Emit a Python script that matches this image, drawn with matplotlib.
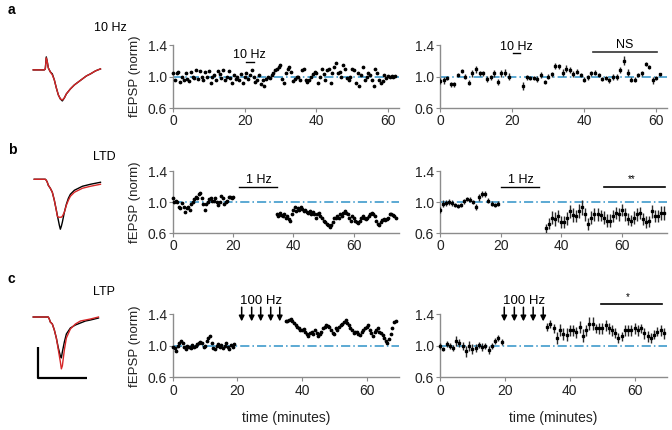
import matplotlib
matplotlib.use('Agg')
import matplotlib.pyplot as plt
import numpy as np

plt.rcParams['font.family'] = ['Liberation Sans', 'DejaVu Sans']
plt.rcParams['font.size'] = 8.5

# ---- data: panel a (10 Hz) ----
a_mid_t = np.arange(0, 62.1, 0.5)
a_mid_v = [1.05, 0.95, 1.04, 1.06, 0.93, 1.0, 0.96, 1.05, 0.97, 0.94,
           1.06, 1.0, 0.98, 1.08, 0.97, 1.07, 1.0, 0.95, 1.06, 0.99,
           1.07, 0.92, 1.0, 1.02, 0.95, 1.07, 1.03, 0.98, 1.08, 0.96,
           1.0, 1.07, 0.98, 0.92, 1.02, 0.97, 1.0, 0.95, 1.03, 0.92,
           1.0, 1.05, 0.97, 1.02, 1.08, 1.0, 0.93, 0.96, 1.02, 0.9,
           0.95, 0.88, 0.97, 1.0, 0.98, 1.02, 1.05, 1.08, 1.1, 1.12,
           1.14, 0.97, 0.92, 1.05, 1.1, 1.12, 1.06, 0.94, 0.97, 0.99,
           1.0, 0.96, 1.08, 1.1, 0.95, 0.93, 0.95, 1.0, 1.03, 1.06,
           1.05, 0.92, 1.0, 1.1, 1.03, 0.96, 1.08, 1.1, 0.92, 1.05,
           1.12, 1.17, 1.05, 1.06, 1.0, 1.14, 1.1, 0.98, 0.96, 1.0,
           1.1, 1.08, 0.92, 1.04, 0.88, 1.02, 1.12, 0.96, 1.0, 1.04,
           1.02, 0.96, 0.88, 1.1, 1.04, 0.96, 0.92, 0.94, 1.02, 0.98,
           1.01, 1.0, 1.01, 1.0, 1.01]

a_right_t = list(range(0, 20)) + list(range(23, 62))
a_right_v = [0.94, 0.95, 0.98, 0.90, 0.90, 1.02, 1.07, 1.0, 0.92, 1.04,
             1.09, 1.04, 1.04, 0.97, 0.99, 1.04, 0.93, 1.04, 1.05, 1.0,
             0.88, 0.99, 0.98, 0.98, 0.97, 1.02, 0.93, 1.0, 1.03, 1.13,
             1.13, 1.05, 1.1, 1.08, 1.03, 1.06, 1.02, 0.96, 0.99, 1.04,
             1.05, 1.02, 0.97, 0.98, 0.95, 0.99, 0.99, 1.08, 1.2, 1.05,
             0.96, 0.96, 1.02, 1.04, 1.16, 1.12, 0.95, 0.98, 1.03]
a_right_e = [0.04, 0.04, 0.03, 0.03, 0.03, 0.03, 0.03, 0.03, 0.03, 0.04,
             0.04, 0.03, 0.03, 0.04, 0.03, 0.04, 0.04, 0.04, 0.04, 0.04,
             0.05, 0.03, 0.03, 0.03, 0.04, 0.04, 0.03, 0.03, 0.03, 0.04,
             0.03, 0.04, 0.04, 0.04, 0.04, 0.03, 0.03, 0.03, 0.03, 0.03,
             0.03, 0.02, 0.03, 0.03, 0.03, 0.04, 0.04, 0.04, 0.06, 0.04,
             0.03, 0.03, 0.03, 0.03, 0.03, 0.03, 0.04, 0.03, 0.02]

# ---- data: panel b (LTD, 1 Hz) ----
b_mid_t = list(np.arange(0, 20.1, 0.5)) + list(np.arange(34.5, 74.1, 0.5))
b_mid_v = [1.05, 1.0, 1.02, 1.0, 0.94, 0.92, 0.99, 0.93, 0.87, 0.92,
           0.94, 0.9, 0.98, 1.0, 1.04, 1.06, 1.05, 1.1, 1.12, 1.05,
           0.97, 0.9, 0.98, 1.0, 1.04, 1.05, 1.02, 1.02, 1.05, 1.0,
           0.96, 1.0, 1.08, 1.05, 0.98, 1.0, 1.02, 1.06, 1.06, 1.05, 1.06,
           0.84, 0.82, 0.86, 0.83, 0.82, 0.84, 0.80, 0.82, 0.78, 0.75,
           0.84, 0.90, 0.93, 0.88, 0.92, 0.90, 0.93, 0.91, 0.88, 0.90,
           0.87, 0.86, 0.89, 0.85, 0.87, 0.84, 0.80, 0.84, 0.86, 0.82,
           0.79, 0.76, 0.74, 0.72, 0.70, 0.68, 0.70, 0.74, 0.80, 0.79,
           0.82, 0.80, 0.84, 0.82, 0.86, 0.88, 0.86, 0.84, 0.80, 0.76,
           0.82, 0.80, 0.76, 0.74, 0.73, 0.76, 0.80, 0.82, 0.80, 0.78,
           0.80, 0.82, 0.84, 0.86, 0.85, 0.82, 0.76, 0.72, 0.71, 0.74,
           0.77, 0.78, 0.77, 0.78, 0.80, 0.84, 0.85, 0.83, 0.82, 0.80]

b_right_t = list(range(0, 20)) + list(range(35, 75))
b_right_v = [0.9, 0.98, 0.99, 1.0, 0.99, 0.96, 0.95, 0.96, 1.01, 1.04,
             1.03, 1.0, 0.94, 1.06, 1.1, 1.1, 1.02, 0.98, 0.96, 0.98,
             0.66, 0.72, 0.80, 0.78, 0.82, 0.74, 0.74, 0.79, 0.88, 0.83,
             0.82, 0.88, 0.93, 0.84, 0.72, 0.80, 0.84, 0.84, 0.83, 0.80,
             0.76, 0.76, 0.82, 0.86, 0.84, 0.90, 0.84, 0.78, 0.76, 0.80,
             0.84, 0.86, 0.78, 0.74, 0.75, 0.88, 0.82, 0.82, 0.86, 0.86]
b_right_e = [0.04, 0.05, 0.04, 0.04, 0.04, 0.03, 0.03, 0.03, 0.03, 0.03,
             0.03, 0.03, 0.04, 0.04, 0.04, 0.04, 0.03, 0.03, 0.03, 0.03,
             0.06, 0.07, 0.08, 0.09, 0.08, 0.08, 0.08, 0.08, 0.08, 0.09,
             0.08, 0.09, 0.10, 0.08, 0.08, 0.08, 0.08, 0.08, 0.07, 0.08,
             0.08, 0.08, 0.08, 0.08, 0.08, 0.08, 0.08, 0.08, 0.07, 0.08,
             0.08, 0.08, 0.08, 0.08, 0.07, 0.08, 0.08, 0.08, 0.09, 0.09]

# ---- data: panel c (LTP, 100 Hz) ----
c_mid_t = list(np.arange(0, 19.1, 0.5)) + list(np.arange(35, 69.1, 0.5))
c_mid_v = [0.98, 0.97, 0.93, 1.0, 1.03, 1.06, 1.03, 0.98, 0.96, 1.0,
           0.99, 0.97, 1.01, 0.99, 1.0, 1.02, 1.04, 1.05, 1.03, 0.99,
           1.0, 1.06, 1.1, 1.12, 1.04, 0.97, 0.96, 1.0, 1.02, 0.98,
           1.01, 0.97, 1.0, 1.03, 0.98, 0.96, 1.01, 0.99, 1.02,
           1.31, 1.32, 1.33, 1.34, 1.31, 1.29, 1.26, 1.24, 1.22, 1.2,
           1.2, 1.21, 1.18, 1.15, 1.12, 1.16, 1.18, 1.15, 1.2, 1.16,
           1.13, 1.15, 1.18, 1.22, 1.24, 1.26, 1.25, 1.24, 1.2, 1.16,
           1.15, 1.22, 1.2, 1.24, 1.26, 1.28, 1.3, 1.33, 1.29, 1.26,
           1.22, 1.2, 1.16, 1.18, 1.18, 1.15, 1.14, 1.18, 1.2, 1.22,
           1.24, 1.26, 1.2, 1.16, 1.12, 1.17, 1.2, 1.22, 1.18, 1.16,
           1.14, 1.1, 1.06, 1.04, 1.08, 1.15, 1.22, 1.3, 1.32]

c_right_t = list(range(0, 20)) + list(range(33, 70))
c_right_v = [1.0, 0.96, 1.02, 1.0, 0.97, 1.06, 1.03, 1.0, 0.93, 1.0,
             0.96, 0.97, 1.01, 0.98, 1.0, 0.95, 1.0, 1.06, 1.1, 1.05,
             1.24, 1.28, 1.22, 1.1, 1.2, 1.15, 1.14, 1.2, 1.2, 1.17,
             1.24, 1.13, 1.2, 1.28, 1.28, 1.22, 1.22, 1.22, 1.26, 1.22,
             1.2, 1.16, 1.1, 1.12, 1.2, 1.2, 1.2, 1.22, 1.2, 1.22,
             1.16, 1.12, 1.1, 1.14, 1.18, 1.2, 1.16]
c_right_e = [0.04, 0.03, 0.04, 0.04, 0.04, 0.06, 0.05, 0.05, 0.07, 0.06,
             0.06, 0.05, 0.04, 0.05, 0.04, 0.05, 0.04, 0.04, 0.04, 0.04,
             0.05, 0.05, 0.06, 0.08, 0.08, 0.08, 0.08, 0.07, 0.07, 0.07,
             0.08, 0.08, 0.07, 0.08, 0.08, 0.06, 0.07, 0.07, 0.07, 0.07,
             0.07, 0.06, 0.06, 0.06, 0.07, 0.07, 0.07, 0.07, 0.07, 0.06,
             0.07, 0.07, 0.06, 0.06, 0.06, 0.07, 0.07]

c_tetanus = [21.3, 24.4, 27.2, 30.3, 33.1]
c_tetanus_right = [19.8, 22.9, 25.7, 28.7, 31.8]

# ---- example fEPSP traces (arbitrary units, 0 = baseline) ----
tr_a_t = [33, 44, 45, 46, 47, 48, 50, 52, 54, 56, 58, 60, 62, 64, 66, 70, 74, 78, 82, 86, 90, 95, 100]
tr_a_black = [0, 0, 1, 13, 8, 2, -2, -4, -10, -18, -25, -29, -31, -28, -24, -19, -15, -12, -9, -6, -4, -1, 1]
tr_a_red = [0, 0, 1, 12, 8, 2, -2, -5, -10, -18, -25, -29, -30, -28, -24, -19, -15, -12, -9, -6, -4, -1, 1]

tr_b_t = [34, 45, 46, 47, 48, 50, 52, 54, 56, 57, 58, 59, 60, 61, 62, 64, 66, 68, 70, 74, 78, 82, 86, 90, 95, 100]
tr_b_black = [0, 0, -1, -3, -6, -9, -13, -21, -31, -36, -41, -46, -50, -47, -43, -33, -25, -19, -15, -11, -9, -7, -6, -5, -4, -3]
tr_b_red = [0, 0, -1, -3, -6, -9, -13, -21, -31, -37, -38, -38, -38, -38, -37, -33, -26, -21, -17, -13, -11, -9, -8, -7, -6, -5]

tr_c_t = [33, 48, 49, 50, 52, 54, 56, 58, 60, 61, 62, 64, 66, 70, 75, 80, 85, 90, 98]
tr_c_black = [0, 0, -2, -5, -7, -13, -21, -31, -39, -41, -35, -25, -17, -11, -8, -6, -4, -3, -1]
tr_c_red = [0, 0, -2, -5, -7, -13, -21, -33, -45, -52, -49, -33, -21, -12, -7, -4, -3, -2, 0]
scale_x = [38, 38, 87]
scale_y = [-30, -61, -61]

blue = '#2f92c8'
grey = '#8c8c8c'
fig = plt.figure(figsize=(6.72, 4.30), dpi=100)

rows = [0.7488, 0.4581, 0.1226]
heights = [0.1465, 0.144, 0.1465]
xlims = [63, 75, 70]


def style_axes(ax, xmax, xlabel=False):
    ax.set_xlim(0, xmax)
    ax.set_ylim(0.6, 1.4)
    for s in ['top', 'right']:
        ax.spines[s].set_visible(False)
    for s in ['left', 'bottom']:
        ax.spines[s].set_color(grey)
        ax.spines[s].set_linewidth(1.0)
    ax.set_yticks([0.6, 1.0, 1.4])
    ax.set_yticklabels(['0.6', '1.0', '1.4'])
    ax.set_xticks([0, 20, 40, 60])
    ax.tick_params(colors=grey, labelcolor='#222222', length=3, width=0.8,
                   labelsize=10, pad=1.5)
    ax.axhline(1.0, color=blue, lw=1.1, ls=(0, (6, 2, 1, 2)), zorder=1)
    if xlabel:
        ax.set_xlabel('time (minutes)', fontsize=10, color='#222222', labelpad=10)


mids, rights = [], []
for i in range(3):
    am = fig.add_axes([0.2574, rows[i], 0.336, heights[i]])
    ar = fig.add_axes([0.6548, rows[i], 0.338, heights[i]])
    style_axes(am, xlims[i], xlabel=(i == 2))
    style_axes(ar, xlims[i], xlabel=(i == 2))
    am.set_ylabel('fEPSP (norm)', fontsize=9.5, color='#222222', labelpad=5)
    mids.append(am)
    rights.append(ar)

dot = dict(ls='none', marker='o', ms=1.7, color='black', mec='black', zorder=3)
eb = dict(fmt='s', ms=1.6, color='black', ecolor='#2a2a2a', elinewidth=1.0,
          capsize=0, zorder=3)

# a
mids[0].plot(a_mid_t, a_mid_v, clip_on=False, **dot)
rights[0].errorbar(a_right_t, a_right_v, yerr=a_right_e, **eb)
mids[0].plot([20.5, 22.5], [1.19, 1.19], color='black', lw=1)
mids[0].text(21.2, 1.27, '10 Hz', ha='center', va='center', fontsize=9)
rights[0].plot([20.3, 22.1], [1.305, 1.305], color='black', lw=1)
rights[0].text(21.2, 1.38, '10 Hz', ha='center', va='center', fontsize=9)
rights[0].plot([42.4, 60.1], [1.31, 1.31], color='#333333', lw=1.2)
rights[0].text(51.2, 1.40, 'NS', ha='center', va='center', fontsize=9)

# b
mids[1].plot(b_mid_t, b_mid_v, clip_on=False, **dot)
rights[1].errorbar(b_right_t, b_right_v, yerr=b_right_e, **eb)
mids[1].plot([22, 34.7], [1.19, 1.19], color='black', lw=1)
mids[1].text(28.4, 1.28, '1 Hz', ha='center', va='center', fontsize=9)
rights[1].plot([20, 32.8], [1.19, 1.19], color='black', lw=1)
rights[1].text(26.7, 1.28, '1 Hz', ha='center', va='center', fontsize=9)
rights[1].plot([54.2, 74.4], [1.19, 1.19], color='black', lw=1.2)
rights[1].text(63.3, 1.30, '**', ha='center', va='center', fontsize=7)

# c
mids[2].plot(c_mid_t, c_mid_v, clip_on=False, **dot)
rights[2].errorbar(c_right_t, c_right_v, yerr=c_right_e, clip_on=False, **eb)
for ax, xs in [(mids[2], c_tetanus), (rights[2], c_tetanus_right)]:
    for x in xs:
        ax.annotate('', xy=(x, 1.31), xytext=(x, 1.49), annotation_clip=False,
                    arrowprops=dict(arrowstyle='-|>', color='black', lw=1.1,
                                    mutation_scale=8, shrinkA=0, shrinkB=0))
    ax.text(np.mean(xs), 1.575, '100 Hz', ha='center', va='center', fontsize=9.5,
            clip_on=False)
rights[2].plot([49.7, 68.5], [1.53, 1.53], color='black', lw=1.2, clip_on=False)
rights[2].text(58, 1.62, '*', ha='center', va='center', fontsize=7, clip_on=False)

# example traces
trace_specs = [
    (tr_a_t, tr_a_black, tr_a_red, [0.045, 0.756, 0.112, 0.128], (-35, 20)),
    (tr_b_t, tr_b_black, tr_b_red, [0.045, 0.453, 0.112, 0.151], (-56, 9)),
    (tr_c_t, tr_c_black, tr_c_red, [0.045, 0.112, 0.112, 0.167], (-65, 7)),
]
for t, blk, red, pos, yl in trace_specs:
    at = fig.add_axes(pos)
    at.plot(t, blk, color='black', lw=1.0)
    at.plot(t, red, color='#d62728', lw=1.0)
    at.set_xlim(30, 105)
    at.set_ylim(*yl)
    at.axis('off')
    if t is tr_c_t:
        at.plot(scale_x, scale_y, color='black', lw=1.6, solid_capstyle='butt')

fig.text(8 / 672, 1 - 10 / 430, 'a', fontsize=10, fontweight='bold', va='center')
fig.text(8 / 672, 1 - 150 / 430, 'b', fontsize=10, fontweight='bold', va='center')
fig.text(8 / 672, 1 - 279 / 430, 'c', fontsize=10, fontweight='bold', va='center')
fig.text(110 / 672, 1 - 28 / 430, '10 Hz', fontsize=9, ha='center', va='center')
fig.text(104 / 672, 1 - 157 / 430, 'LTD', fontsize=9, ha='center', va='center')
fig.text(104 / 672, 1 - 292 / 430, 'LTP', fontsize=9, ha='center', va='center')

fig.savefig('out.png', dpi=100)
